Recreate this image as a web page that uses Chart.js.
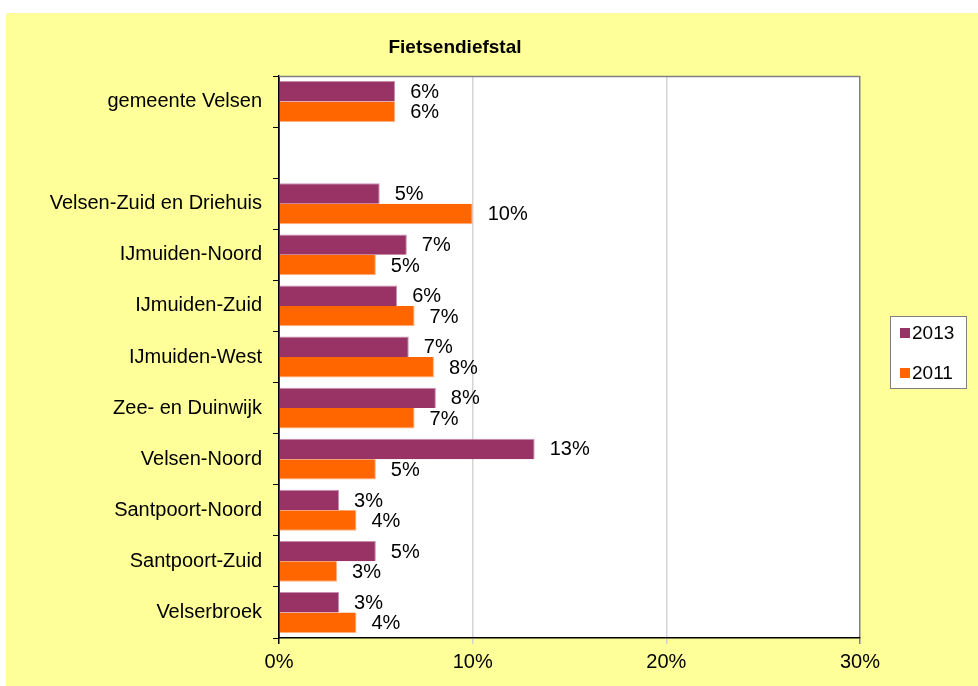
<!DOCTYPE html>
<html>
<head>
<meta charset="utf-8">
<script src="https://cdn.jsdelivr.net/npm/chart.js@4/dist/chart.umd.min.js"></script>
<style>
body{margin:0;background:#fff;}
#wrap{width:978px;height:686px;position:relative;}
</style>
</head>
<body>
<div id="wrap"><canvas id="BarChart" width="978" height="686"></canvas></div>
<script>
// wijken (lege regel tussen gemeente en wijken)
let wijken=['gemeente Velsen','','Velsen-Zuid en Driehuis','IJmuiden-Noord','IJmuiden-Zuid','IJmuiden-West','Zee- en Duinwijk','Velsen-Noord','Santpoort-Noord','Santpoort-Zuid','Velserbroek']
let waarden2013=[6.0,null,5.2,6.6,6.1,6.7,8.1,13.2,3.1,5.0,3.1]
let waarden2011=[6.0,null,10.0,5.0,7.0,8.0,7.0,5.0,4.0,3.0,4.0]
let jaren=['2013','2011']
let kleuren=['#993366','#FF6600']
let xTicks=[0,10,20,30]

let achtergrond={
    id:'achtergrond',
    beforeDraw(chart){
        let c=chart.ctx, a=chart.chartArea
        c.save()
        c.fillStyle='#ffffff'
        c.fillRect(0,0,chart.width,chart.height)
        c.fillStyle='#FFFF99'
        c.fillRect(6,13,chart.width-6,chart.height-13)
        c.fillStyle='#ffffff'
        c.fillRect(a.left,a.top,a.right-a.left,a.bottom-a.top)
        c.restore()
    },
    afterDraw(chart){
        let c=chart.ctx, a=chart.chartArea
        c.save()
        // bovenrand
        c.strokeStyle='#808080'
        c.lineWidth=1.5
        c.beginPath()
        c.moveTo(a.left,a.top+0.5)
        c.lineTo(a.right,a.top+0.5)
        c.stroke()
        // titel
        c.fillStyle='#000'
        c.font='bold 19px Arial, "Liberation Sans"'
        c.textAlign='center'
        c.textBaseline='middle'
        c.fillText('Fietsendiefstal',455,48)
        // legenda
        c.fillStyle='#fff'
        c.fillRect(890,316,76,72)
        c.strokeStyle='#808080'
        c.lineWidth=1
        c.strokeRect(890.5,316.5,76,72)
        c.font='19px Arial, "Liberation Sans"'
        c.textAlign='left'
        for(let i in jaren){
            let y=333+i*40
            c.fillStyle=kleuren[i]
            c.fillRect(900,y-5,10,10)
            c.fillStyle='#000'
            c.fillText(jaren[i],912,y+1)
        }
        c.restore()
    }
}

let labels={
    id:'labels',
    afterDatasetsDraw(chart){
        let c=chart.ctx
        c.save()
        c.font='20px Arial, "Liberation Sans"'
        c.fillStyle='#000'
        c.textAlign='left'
        c.textBaseline='middle'
        chart.data.datasets.forEach(function(ds,d){
            chart.getDatasetMeta(d).data.forEach(function(el,i){
                if(ds.data[i]==null) return
                c.fillText(Math.round(ds.data[i])+'%',el.x+15,el.y+1)
            })
        })
        c.restore()
    }
}

let ctx=document.getElementById('BarChart').getContext('2d')
let myChart=new Chart(ctx,{
    type:'bar',
    data:{
        labels:wijken,
        datasets:[
            {label:jaren[0],data:waarden2013,backgroundColor:kleuren[0],borderColor:'#c890b0',borderWidth:{top:1,right:1,bottom:0,left:0},categoryPercentage:0.8,barPercentage:1},
            {label:jaren[1],data:waarden2011,backgroundColor:kleuren[1],borderColor:'#ffb080',borderWidth:{top:0,right:1,bottom:1,left:0},categoryPercentage:0.8,barPercentage:1}
        ]
    },
    options:{
        indexAxis:'y',
        responsive:false,
        animation:false,
        layout:{padding:{left:0,right:118,top:76,bottom:0}},
        plugins:{legend:{display:false},tooltip:{enabled:false},title:{display:false}},
        scales:{
            x:{
                min:0,max:30,
                afterBuildTicks(s){s.ticks=xTicks.map(v=>({value:v}))},
                afterFit(s){s.height=48},
                border:{color:'#000',width:1.5},
                grid:{
                    color:function(ctx){
                        if(ctx.tick.value==0) return '#000'
                        if(ctx.tick.value==30) return '#808080'
                        return '#d4d4d4'
                    },
                    lineWidth:1.5,
                    tickLength:6,
                    drawTicks:true
                },
                ticks:{
                    callback:v=>v+'%',
                    color:'#000',
                    font:{family:'Arial, "Liberation Sans"',size:20},
                    padding:6,
                    maxRotation:0
                }
            },
            y:{
                afterFit(s){s.width=279},
                border:{color:'#000',width:1.5},
                grid:{offset:true,drawOnChartArea:false,drawTicks:true,tickLength:6,color:'#000'},
                ticks:{
                    color:'#000',
                    font:{family:'Arial, "Liberation Sans"',size:20},
                    padding:11,
                    autoSkip:false
                }
            }
        }
    },
    plugins:[achtergrond,labels]
})
</script>
</body>
</html>
